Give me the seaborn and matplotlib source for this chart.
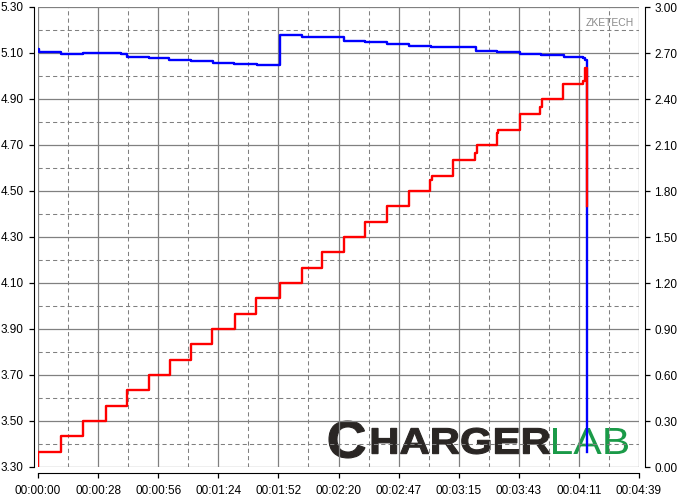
import numpy as np
import matplotlib
matplotlib.use("Agg")
import matplotlib.pyplot as plt
import seaborn as sns
from matplotlib.textpath import TextPath
from matplotlib.patches import PathPatch
from matplotlib.font_manager import FontProperties
from matplotlib.transforms import Affine2D, IdentityTransform

plt.rcParams['font.family'] = ['Liberation Sans', 'DejaVu Sans']

# voltage trace (s, V) - step values
volt_time = [0, 0.5, 10.7, 20.8, 38.5, 41.1, 51.6, 61.0, 71.2, 81.2, 91.2, 101.5,
             112.3, 122.4, 132.0, 132.6, 142.1, 152.0, 162.1, 172.2, 182.4, 203.5,
             213.2, 223.8, 233.6, 244.0, 253.0, 253.8, 254.8]
volt_vals = [5.118, 5.106, 5.094, 5.098, 5.094, 5.084, 5.078, 5.070, 5.064, 5.058, 5.052, 5.046,
             5.178, 5.168, 5.171, 5.168, 5.153, 5.146, 5.139, 5.132, 5.125, 5.110,
             5.104, 5.097, 5.090, 5.084, 5.077, 5.068, 3.366]

# current trace (s, A)
curr_time = [0, 0, 10.7, 20.7, 31.5, 41.1, 51.6, 61.2, 71.2, 81.0, 91.3, 101.4, 112.3,
             122.4, 132.0, 142.1, 152.0, 162.1, 172.4, 182.1, 182.8, 192.5, 203.0, 203.7,
             213.0, 213.5, 223.8, 233.1, 234.2, 243.9, 252.9, 253.7, 254.8]
curr_vals = [0.00, 0.10, 0.20, 0.30, 0.40, 0.50, 0.60, 0.70, 0.80, 0.90, 1.00, 1.10, 1.20,
             1.30, 1.40, 1.50, 1.60, 1.70, 1.80, 1.87, 1.90, 2.00, 2.05, 2.10,
             2.18, 2.20, 2.30, 2.35, 2.40, 2.50, 2.52, 2.60, 1.70]

time_labels = ['00:00:00', '00:00:28', '00:00:56', '00:01:24', '00:01:52', '00:02:20',
               '00:02:47', '00:03:15', '00:03:43', '00:04:11', '00:04:39']

W, H = 679, 501
fig = plt.figure(figsize=(W / 100, H / 100), dpi=100)
ax = fig.add_axes([38 / W, 34 / H, 601 / W, 460 / H])
ax2 = ax.twinx()

sns.lineplot(x=volt_time, y=volt_vals, ax=ax, color='#0000ff', linewidth=1.7,
             drawstyle='steps-post', estimator=None, sort=False)
sns.lineplot(x=curr_time, y=curr_vals, ax=ax2, color='#ff0000', linewidth=1.7,
             drawstyle='steps-post', estimator=None, sort=False)

ax.set_xlim(0, 279)
ax.set_ylim(3.3, 5.3)
ax2.set_ylim(0, 3.0)

ax.set_xticks(np.linspace(0, 279, 11))
ax.set_xticks(np.linspace(0, 279, 21), minor=True)
ax.set_xticklabels(time_labels)
ax.set_yticks(np.arange(3.3, 5.31, 0.2))
ax.set_yticks(np.arange(3.3, 5.31, 0.1), minor=True)
ax.set_yticklabels([f"{v:.2f}" for v in np.arange(3.3, 5.31, 0.2)])
ax2.set_yticks(np.arange(0, 3.01, 0.3))
ax2.set_yticklabels([f"{v:.2f}" for v in np.arange(0, 3.01, 0.3)])

ax.set_axisbelow(True)
ax.grid(which='major', color='#808080', linewidth=0.9, linestyle='-')
ax.grid(which='minor', color='#808080', linewidth=0.75, linestyle=(0, (4, 3)))

for a in (ax, ax2):
    a.set_xlabel('')
    a.set_ylabel('')
    a.tick_params(which='major', direction='out', length=3.8, width=0.9,
                  colors='black', labelsize=8.5)
    a.tick_params(which='minor', length=0)
    a.spines['top'].set_visible(False)

ax.tick_params(axis='x', pad=5)
ax.tick_params(axis='y', pad=3.5)
ax2.tick_params(axis='y', pad=3)
ax.spines['right'].set_visible(False)
ax.spines['left'].set_position(('outward', 3))
ax.spines['bottom'].set_position(('outward', 4.3))
ax2.spines['left'].set_visible(False)
ax2.spines['bottom'].set_visible(False)
ax2.spines['right'].set_position(('outward', 4.3))
for s in ('left', 'bottom'):
    ax.spines[s].set_color('black')
ax2.spines['right'].set_color('black')

ax.text(0.992, 0.965, 'ZKETECH', transform=ax.transAxes, ha='right', va='center',
        fontsize=7.5, color='#8a8a8a')


def logo_word(s, x0, x1, ytop, ybot, color, weight):
    tp = TextPath((0, 0), s, size=40,
                  prop=FontProperties(family='Liberation Sans', weight=weight))
    b = tp.get_extents()
    tr = (Affine2D().translate(-b.x0, -b.y0)
          .scale((x1 - x0) / b.width, (ybot - ytop) / b.height)
          .translate(x0, H - ybot))
    patch = PathPatch(tr.transform_path(tp), facecolor=color, edgecolor=color,
                      linewidth=0.8 if weight == 'bold' else 0,
                      transform=IdentityTransform(), zorder=0.3, clip_on=False)
    ax.add_artist(patch)


logo_word('C', 329, 365, 421, 458, '#2a2624', 'bold')
logo_word('HARGER', 372, 550, 428, 454, '#2a2624', 'bold')
logo_word('LAB', 553, 628, 428, 454, '#1a9a48', 'normal')

fig.savefig('out.png', dpi=100, facecolor='white')
